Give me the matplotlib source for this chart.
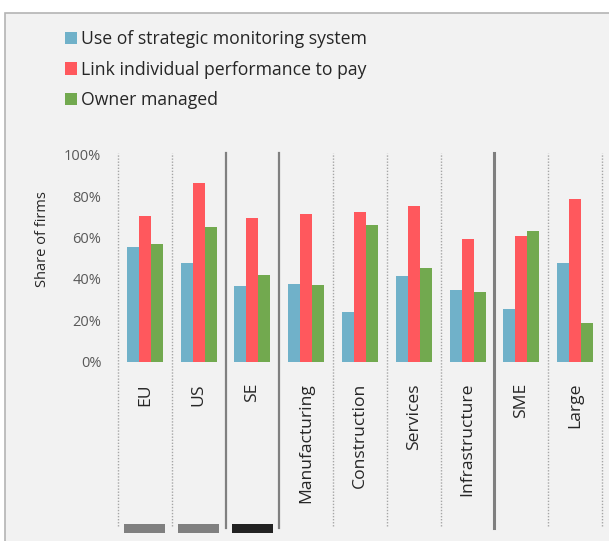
import matplotlib.pyplot as plt
from matplotlib.patches import Rectangle, Patch
import matplotlib.transforms as mtransforms
import numpy as np

plt.rcParams['font.family'] = ['Open Sans', 'DejaVu Sans']

# Data
categories = ['EU', 'US', 'SE', 'Manufacturing', 'Construction', 'Services',
              'Infrastructure', 'SME', 'Large']
monitoring = [0.553, 0.475, 0.364, 0.375, 0.239, 0.414, 0.348, 0.256, 0.477]
perf_pay = [0.704, 0.862, 0.694, 0.713, 0.723, 0.754, 0.593, 0.609, 0.785]
owner_managed = [0.570, 0.649, 0.417, 0.370, 0.660, 0.453, 0.335, 0.631, 0.188]
series_names = ['Use of strategic monitoring system',
                'Link individual performance to pay',
                'Owner managed']
colors = ['#70b1c9', '#ff585d', '#72a94f']

# separator style to the left of each category (last entry = right edge)
sep_styles = ['dot', 'dot', 'solid', 'solid', 'dot', 'dot', 'dot', 'thick', 'dot', 'dot']
# marker boxes under the region groups
box_colors = {0: '#808080', 1: '#808080', 2: '#222222'}

W, H = 609, 541
fig = plt.figure(figsize=(W / 100, H / 100), dpi=100)
fig.patch.set_facecolor('white')

# grey panel with border (runs off the right and bottom edges)
panel = Rectangle((5 / W, -0.05), 1.1, (H - 13) / H + 0.05, transform=fig.transFigure,
                  facecolor='#f2f2f2', edgecolor='#b4b4b4', linewidth=1.2, zorder=-5)
fig.patches.append(panel)

y0, y100 = 361.7, 154.7
x_left, x_right = 118, 602
ax = fig.add_axes([x_left / W, (H - y0) / H, (x_right - x_left) / W, (y0 - y100) / H])
ax.set_facecolor('none')
ax.set_zorder(2)
for s in ax.spines.values():
    s.set_visible(False)

n = len(categories)
x = np.arange(n)
bw = 12 / 53.8
for k, vals in enumerate([monitoring, perf_pay, owner_managed]):
    ax.bar(x + (k - 1) * bw, vals, width=bw, color=colors[k], label=series_names[k],
           edgecolor='none', zorder=3)

ax.set_xlim(-0.5, n - 0.5)
ax.set_ylim(0, 1)
ticks = np.arange(0, 1.01, 0.2)
ax.set_yticks(ticks)
ax.set_yticklabels([f'{int(round(v * 100))}%' for v in ticks])
ax.tick_params(axis='y', length=0, pad=12, labelsize=10.5, labelcolor='#595959')
ax.set_xticks([])

# separators
scale = y0 - y100
ybot = (y0 - 528) / scale
ytop = (y0 - 153) / scale
for i, st in enumerate(sep_styles):
    xp = i - 0.5
    if st == 'dot':
        ax.axvline(xp, ymin=ybot + 0.01, ymax=ytop, color='#a6a6a6', lw=1.0,
                   ls=(0, (1, 1.2)), clip_on=False, zorder=1)
    elif st == 'solid':
        ax.axvline(xp, ymin=ybot, ymax=ytop, color='#808080', lw=1.6,
                   clip_on=False, zorder=1)
    else:
        ax.axvline(xp, ymin=ybot, ymax=ytop, color='#7f7f7f', lw=2.2,
                   clip_on=False, zorder=1)

# category labels
trans = mtransforms.blended_transform_factory(ax.transData, ax.transAxes)
for i, c in enumerate(categories):
    ax.text(i, (y0 - 383) / scale, c, rotation=90, ha='center', va='top',
            fontsize=12.6, color='#262626', transform=trans)

# marker boxes
for i, col in box_colors.items():
    ax.add_patch(Rectangle((i - 0.38, (y0 - 533) / scale), 0.76, 9 / scale,
                           transform=trans, facecolor=col, edgecolor='none',
                           clip_on=False))

fig.text(43 / W, 1 - 239 / H, 'Share of firms', rotation=90, ha='center', va='center',
         fontsize=10.5, color='#262626')

handles = [Patch(facecolor=c, edgecolor='none') for c in colors]
fig.legend(handles, series_names, loc='upper left',
           bbox_to_anchor=(65 / W, 1 - 30 / H), frameon=False, fontsize=12.7,
           handlelength=0.68, handleheight=0.68, handletextpad=0.2,
           labelspacing=0.72, borderpad=0, borderaxespad=0, labelcolor='#262626')

fig.savefig('out.png', dpi=100, facecolor='white')
